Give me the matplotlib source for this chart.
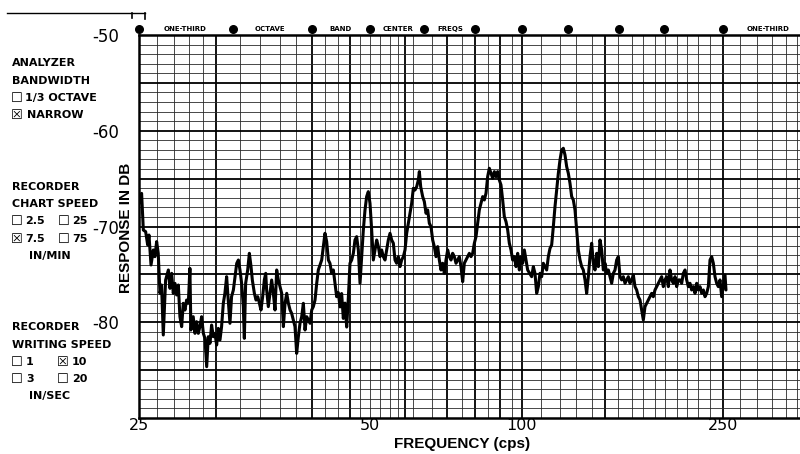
import numpy as np
import matplotlib
matplotlib.use('Agg')
import matplotlib.pyplot as plt
from matplotlib.lines import Line2D
from matplotlib.ticker import NullLocator

# ---------------- data ----------------
# one-third octave band centre frequencies printed on the paper, with their position along the paper (px)
band_freqs = [25, 31.5, 40, 50, 63, 80, 100, 125, 160, 200, 250, 315, 400]
band_pos = [139, 233, 312, 370, 424, 475, 522, 568, 619, 664, 723, 780, 840]
dot_count = 11

freq_ticks = [25, 50, 100, 250]
freq_tick_labels = ['25', '50', '100', '250']
db_ticks = [-50, -60, -70, -80]
db_tick_labels = ['-50', '-60', '-70', '-80']

trace_freq = [
    25.02, 25.18, 25.30, 25.46, 25.60, 25.69, 25.83, 25.99, 26.10, 26.22, 26.33, 26.45, 26.56, 26.68,
    26.84, 27.03, 27.14, 27.26, 27.37, 27.49, 27.60, 27.72, 27.83, 27.95, 28.06, 28.18, 28.29, 28.41,
    28.52, 28.59, 28.75, 28.87, 28.98, 29.10, 29.21, 29.33, 29.45, 29.56, 29.68, 29.79, 29.91, 30.02,
    30.14, 30.25, 30.37, 30.48, 30.60, 30.71, 30.83, 30.94, 31.06, 31.17, 31.29, 31.40, 31.54, 31.72,
    31.90, 32.08, 32.25, 32.43, 32.61, 32.72, 32.86, 33.08, 33.26, 33.44, 33.58, 33.80, 33.98, 34.16,
    34.30, 34.51, 34.69, 34.87, 35.02, 35.12, 35.30, 35.48, 35.66, 35.84, 36.02, 36.20, 36.38, 36.56,
    36.74, 36.92, 37.10, 37.28, 37.46, 37.64, 37.81, 37.99, 38.17, 38.35, 38.53, 38.71, 38.89, 39.07,
    39.25, 39.43, 39.61, 39.79, 39.97, 40.23, 40.52, 40.81, 41.09, 41.38, 41.67, 41.96, 42.24, 42.53,
    42.82, 43.10, 43.39, 43.68, 43.96, 44.25, 44.54, 44.83, 45.11, 45.40, 45.69, 45.98, 46.26, 46.55,
    46.84, 47.13, 47.41, 47.70, 47.99, 48.28, 48.56, 48.85, 49.14, 49.42, 49.71, 50.00, 50.40, 50.80,
    51.20, 51.61, 52.01, 52.41, 52.81, 53.21, 53.61, 54.01, 54.41, 54.82, 55.22, 55.62, 56.02, 56.42,
    56.82, 57.22, 57.62, 58.03, 58.43, 58.83, 59.23, 59.63, 60.03, 60.43, 60.83, 61.24, 61.64, 61.88,
    62.20, 62.68, 63.11, 63.67, 64.22, 64.78, 65.33, 65.89, 66.44, 67.00, 67.56, 68.11, 68.67, 69.22,
    69.78, 70.33, 70.89, 71.44, 72.00, 72.55, 73.11, 73.67, 74.22, 74.78, 75.33, 75.89, 76.44, 77.00,
    77.55, 78.11, 78.67, 79.22, 79.78, 80.43, 81.14, 81.84, 82.55, 83.26, 83.97, 84.68, 85.39, 86.10,
    86.81, 87.52, 88.23, 88.94, 89.65, 90.35, 91.06, 91.77, 92.48, 93.19, 93.90, 94.61, 95.32, 96.03,
    96.74, 97.45, 98.16, 98.87, 99.57, 100.36, 101.27, 102.17, 103.08, 105.25, 106.16, 107.06, 107.97,
    108.88, 109.78, 110.69, 111.59, 112.50, 113.41, 114.31, 115.22, 116.12, 117.03, 117.93, 118.84,
    119.75, 120.65, 121.56, 122.46, 123.37, 124.28, 125.23, 126.37, 127.52, 128.66, 129.80, 130.95,
    132.09, 133.24, 134.38, 135.52, 136.67, 137.81, 138.95, 140.10, 141.24, 142.39, 143.53, 144.67,
    145.82, 146.96, 148.10, 149.25, 150.39, 151.54, 152.68, 153.82, 154.97, 156.11, 157.26, 158.40,
    159.54, 160.89, 162.37, 163.85, 165.33, 166.81, 168.29, 169.77, 171.26, 172.74, 174.22, 175.70,
    177.18, 178.66, 180.14, 181.63, 183.11, 184.59, 186.07, 187.55, 189.03, 190.51, 192.00, 193.48,
    194.96, 196.44, 197.92, 199.40, 200.85, 202.26, 203.68, 205.09, 206.50, 207.91, 209.33, 210.74,
    212.15, 213.56, 214.98, 216.39, 217.80, 219.21, 220.63, 222.04, 223.45, 224.86, 226.28, 227.69,
    229.10, 230.51, 231.93, 233.34, 234.75, 236.16, 237.58, 238.99, 240.40, 241.81, 243.23, 244.64,
    246.05, 247.46, 248.88, 250.20, 252.30, 253.40,
]
trace_db = [
    -67.58, -66.54, -70.37, -70.54, -71.93, -70.89, -74.02, -72.45, -73.15, -71.58, -72.80, -76.98, -76.11, -81.33,
    -75.59, -74.54, -76.46, -74.89, -76.98, -75.94, -77.15, -76.11, -79.42, -80.46, -78.02, -78.72, -77.68, -78.02,
    -74.37, -80.81, -79.42, -81.16, -79.94, -81.16, -80.46, -79.42, -81.16, -81.68, -84.64, -81.51, -82.20, -80.29,
    -81.51, -81.16, -82.38, -80.64, -81.85, -80.46, -78.02, -76.98, -75.24, -77.68, -80.11, -77.33, -76.63, -75.24,
    -73.85, -73.50, -74.54, -75.94, -78.37, -81.68, -75.94, -74.54, -72.80, -74.19, -75.59, -76.98, -77.68, -77.33,
    -77.85, -78.72, -77.33, -75.59, -74.89, -76.63, -78.37, -76.98, -75.59, -76.98, -78.72, -74.54, -75.59, -76.28,
    -76.98, -80.46, -78.02, -76.98, -78.02, -78.72, -79.07, -79.76, -80.46, -83.25, -81.51, -80.11, -79.42, -78.02,
    -80.81, -79.42, -79.76, -80.11, -78.72, -78.37, -77.68, -75.94, -74.54, -74.02, -73.50, -72.11, -70.71, -71.58,
    -73.50, -73.85, -74.89, -74.54, -75.93, -77.33, -76.90, -78.40, -77.00, -79.60, -78.00, -80.50, -77.50, -73.84,
    -73.50, -72.80, -71.41, -71.06, -72.45, -75.93, -73.15, -70.36, -68.27, -66.88, -66.36, -67.58, -70.36, -73.50,
    -72.45, -71.41, -72.10, -73.15, -72.45, -73.15, -73.50, -72.45, -71.41, -70.71, -71.41, -71.75, -73.50, -73.84,
    -73.15, -74.19, -73.50, -73.15, -72.45, -70.71, -69.67, -68.62, -67.58, -66.01, -66.19, -65.84, -65.14, -64.27,
    -65.84, -66.88, -67.40, -68.62, -68.27, -69.67, -70.01, -71.41, -72.10, -73.15, -72.10, -73.50, -74.54, -73.84,
    -74.89, -73.50, -72.45, -73.15, -73.50, -72.80, -73.15, -73.84, -73.50, -73.15, -74.19, -75.76, -73.84, -73.50,
    -73.15, -72.80, -73.15, -72.80, -71.75, -71.06, -69.67, -68.27, -67.58, -66.88, -67.23, -66.53, -64.79, -63.92,
    -64.45, -64.97, -64.27, -64.79, -64.27, -65.14, -65.66, -67.23, -68.97, -69.49, -70.36, -71.75, -72.45, -73.50,
    -73.15, -74.19, -72.80, -74.54, -73.15, -73.84, -72.45, -73.50, -74.54, -75.24, -74.19, -74.89, -76.98,
    -76.28, -74.89, -75.24, -73.84, -74.19, -74.54, -73.15, -72.28, -71.93, -70.01, -67.93, -66.19,
    -64.45, -63.05, -62.01, -61.83, -62.53, -63.75, -64.45, -65.49, -66.88, -67.23, -68.27, -70.36,
    -72.45, -73.50, -74.19, -74.54, -75.58, -76.98, -75.24, -73.15, -71.75, -73.84, -74.54, -72.80,
    -74.19, -71.41, -72.45, -74.54, -73.84, -74.89, -74.54, -75.24, -75.93, -74.89, -74.54, -73.50,
    -73.15, -75.24, -75.58, -75.24, -75.93, -75.58, -75.24, -75.93, -75.58, -75.06, -76.28, -76.63,
    -77.33, -77.67, -78.72, -79.76, -78.37, -78.02, -77.67, -77.33, -76.98, -77.33, -76.63, -76.28,
    -75.93, -75.58, -75.24, -76.28, -75.58, -75.24, -76.28, -74.54, -75.58, -75.93, -75.24, -76.28,
    -75.58, -75.58, -75.93, -74.89, -74.54, -75.58, -76.28, -75.93, -76.63, -76.28, -76.98, -75.93,
    -76.63, -76.28, -76.98, -76.63, -77.33, -76.98, -76.28, -73.50, -73.15, -73.84, -75.24, -75.93,
    -76.28, -75.58, -77.33, -76.28, -75.06, -76.63,
]

# ---------------- layout ----------------
W, H = 800, 454
fig = plt.figure(figsize=(8, 4.54), dpi=100)
fig.patch.set_facecolor('white')


def fx(px):
    return px / W


def fy(py):
    return 1 - py / H


ax = fig.add_axes([fx(139), fy(418), fx(800) - fx(139), fy(35) - fy(418)])


def fwd(f):
    return np.interp(f, band_freqs, band_pos)


def inv(p):
    return np.interp(p, band_pos, band_freqs)


ax.set_xscale('function', functions=(fwd, inv))
ax.set_xlim(25, float(inv(800)))
ax.set_ylim(-90, -50)

# chart paper grid (positions along the paper, px)
thin_px = [157, 174, 189, 203, 240, 260, 280, 296, 325, 338, 360, 370, 380, 390, 398, 413, 432,
           462, 488, 512, 541, 560, 576, 592, 618, 632, 643, 655, 665, 677, 687, 698, 710, 740,
           757, 772, 786, 797]
thick_px = [216, 312, 350, 405, 447, 475, 500, 522, 605, 723]
for p in thin_px:
    ax.axvline(float(inv(p)), color='#2a2a2a', lw=0.6, zorder=1)
for p in thick_px:
    ax.axvline(float(inv(p)), color='black', lw=1.3, zorder=1)
for d in range(-89, -50):
    if d % 5 == 0:
        ax.axhline(d, color='black', lw=1.3, zorder=1)
    else:
        ax.axhline(d, color='#2a2a2a', lw=0.6, zorder=1)

ax.plot(trace_freq, trace_db, color='black', lw=2.2, solid_joinstyle='round',
        solid_capstyle='round', zorder=3)

for side in ['left', 'bottom', 'top']:
    ax.spines[side].set_linewidth(1.8)
    ax.spines[side].set_color('black')
ax.spines['right'].set_visible(False)

ax.set_xticks(freq_ticks, freq_tick_labels)
ax.xaxis.set_minor_locator(NullLocator())
ax.set_yticks(db_ticks, db_tick_labels)
ax.yaxis.set_minor_locator(NullLocator())
ax.tick_params(axis='both', length=0, labelsize=12, colors='black')
ax.tick_params(axis='y', pad=14)
ax.tick_params(axis='x', pad=0, labelsize=11.5)
for lab in ax.get_xticklabels() + ax.get_yticklabels():
    lab.set_family('DejaVu Sans')

# axis titles
fig.text(fx(462), fy(437), 'FREQUENCY (cps)', ha='center', va='top', fontsize=11,
         fontweight='bold', family='Liberation Sans')
fig.text(fx(126), fy(228), 'RESPONSE IN DB', rotation=90, ha='center', va='center',
         fontsize=11, fontweight='bold', family='Liberation Sans')

# band centre dots along the top of the paper
ax.scatter(band_freqs[:dot_count], [1.016] * dot_count, transform=ax.get_xaxis_transform(),
           clip_on=False, s=30, color='black', zorder=5)
top_labels = [(185, 'ONE-THIRD'), (270, 'OCTAVE'), (341, 'BAND'), (398, 'CENTER'),
              (450, 'FREQS'), (768, 'ONE-THIRD')]
for px, t in top_labels:
    fig.text(fx(px), fy(29), t, ha='center', va='center', fontsize=5, fontweight='bold',
             family='DejaVu Sans')

# top-left pen mark
fig.add_artist(Line2D([fx(7), fx(145)], [fy(12.5), fy(12.5)], color='black', lw=1.0))
fig.add_artist(Line2D([fx(132), fx(132)], [fy(12.5), fy(18)], color='black', lw=1.2))
fig.add_artist(Line2D([fx(145), fx(145)], [fy(12.5), fy(19)], color='black', lw=1.2))

# left information panel
panel = [
    (12, 63, 'ANALYZER'), (12, 80.5, 'BANDWIDTH'), (25, 98, '1/3 OCTAVE'), (27, 115, 'NARROW'),
    (12, 187, 'RECORDER'), (12, 204, 'CHART SPEED'), (25, 221, '2.5'), (72, 221, '25'),
    (25, 239, '7.5'), (72, 239, '75'), (29, 256, 'IN/MIN'),
    (12, 327, 'RECORDER'), (12, 344.5, 'WRITING SPEED'), (26, 362, '1'), (72, 362, '10'),
    (26, 379.5, '3'), (72, 379.5, '20'), (29, 396, 'IN/SEC'),
]
for px, py, t in panel:
    fig.text(fx(px), fy(py), t, ha='left', va='center', fontsize=8, fontweight='bold',
             family='DejaVu Sans')

boxes = [(11, 98, '\u2610'), (11, 115, '\u2612'), (11, 221, '\u2610'), (58, 221, '\u2610'),
         (11, 239, '\u2612'), (58, 239, '\u2610'), (11, 362, '\u2610'), (57, 362, '\u2612'),
         (11, 379.5, '\u2610'), (57, 379.5, '\u2610')]
for px, py, t in boxes:
    fig.text(fx(px), fy(py), t, ha='left', va='center', fontsize=9.5, family='DejaVu Sans')

fig.savefig('out.png', dpi=100, facecolor='white')
